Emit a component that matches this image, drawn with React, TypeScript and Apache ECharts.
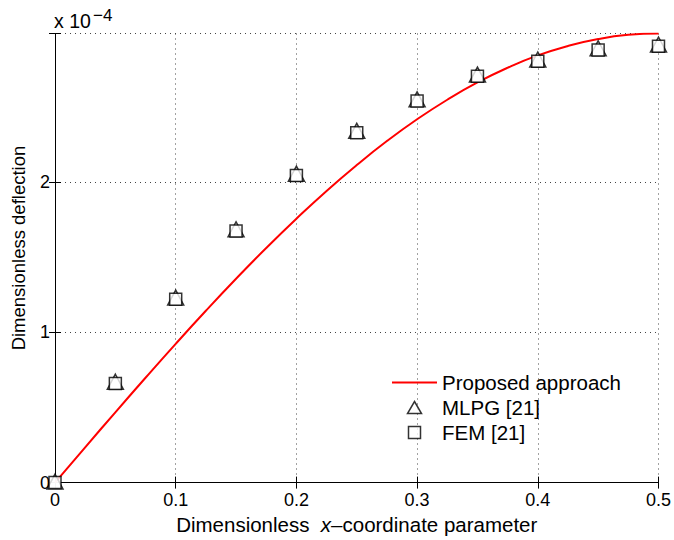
import React, { useEffect, useRef } from "react";
import * as echarts from "echarts";

// x positions (dimensionless x-coordinate)
const curveX = [0, 0.025, 0.05, 0.075, 0.1, 0.125, 0.15, 0.175, 0.2, 0.225, 0.25, 0.275, 0.3, 0.325, 0.35, 0.375, 0.4, 0.425, 0.45, 0.475, 0.5];
// Proposed approach deflection (×1e-4)
const curveY = [0, 0.235, 0.468, 0.698, 0.924, 1.144, 1.357, 1.562, 1.757, 1.942, 2.114, 2.274, 2.419, 2.549, 2.664, 2.762, 2.844, 2.907, 2.953, 2.981, 2.99];

const pointX = [0, 0.05, 0.1, 0.15, 0.2, 0.25, 0.3, 0.35, 0.4, 0.45, 0.5];
// MLPG [21] (×1e-4)
const mlpgY = [0, 0.665, 1.225, 1.68, 2.05, 2.335, 2.545, 2.71, 2.81, 2.885, 2.91];
// FEM [21] (×1e-4)
const femY = [0, 0.66, 1.22, 1.675, 2.045, 2.33, 2.54, 2.705, 2.805, 2.88, 2.905];

const yTicks = [0, 1, 2];

const FONT = "Liberation Sans, Arial, Helvetica, sans-serif";

export default function App() {
  const ref = useRef<HTMLDivElement>(null);
  useEffect(() => {
    document.body.style.margin = "0";
    if (!ref.current) return;
    const chart = echarts.init(ref.current, undefined, { renderer: "svg" });
    const line = curveX.map((x, i) => [x, curveY[i]]);
    const mlpg = pointX.map((x, i) => [x, mlpgY[i]]);
    const fem = pointX.map((x, i) => [x, femY[i]]);
    const fmtX = (v: number) => String(+v.toFixed(2));
    chart.setOption({
      animation: false,
      backgroundColor: "#ffffff",
      textStyle: { fontFamily: FONT },
      grid: { left: 55, right: 15.5, top: 33.5, bottom: 52, containLabel: false },
      legend: {
        orient: "vertical",
        left: 392,
        top: 372,
        padding: 0,
        itemWidth: 45,
        itemHeight: 12,
        itemGap: 4,
        symbolKeepAspect: true,
        textStyle: { fontFamily: FONT, fontSize: 20.5, color: "#000" },
        data: [
          { name: "Proposed approach", icon: "path://M0,0L45,0L45,2L0,2Z", itemStyle: { color: "#ff0000", borderWidth: 0 } },
          { name: "MLPG [21]", icon: "path://M7,0L14,12L0,12Z", itemStyle: { color: "#ffffff", borderColor: "#000", borderWidth: 1.5 } },
          { name: "FEM [21]", icon: "path://M1,1L11,1L11,11L1,11Z", itemStyle: { color: "#ffffff", borderColor: "#000", borderWidth: 1.5 } },
        ],
      },
      xAxis: [
        {
          type: "value",
          min: 0,
          max: 0.5,
          interval: 0.1,
          position: "bottom",
          name: "Dimensionless  {i|x}\u2013coordinate parameter",
          nameLocation: "middle",
          nameGap: 23,
          nameTextStyle: {
            fontFamily: FONT,
            fontSize: 20.5,
            color: "#000",
            rich: { i: { fontStyle: "italic", fontFamily: FONT, fontSize: 20.5, color: "#000" } },
          },
          axisLine: { show: true, lineStyle: { color: "#000", width: 1 } },
          axisTick: { show: true, inside: true, length: 6, lineStyle: { color: "#000" } },
          axisLabel: { fontFamily: FONT, fontSize: 18, color: "#000", margin: 8.5, formatter: fmtX },
          splitLine: { show: true, lineStyle: { color: "#444", type: [1, 4], width: 1 } },
        },
        {
          type: "value",
          min: 0,
          max: 0.5,
          interval: 0.1,
          position: "top",
          axisLine: { show: true, lineStyle: { color: "#000", width: 1 } },
          axisTick: { show: true, inside: true, length: 6, lineStyle: { color: "#000" } },
          axisLabel: { show: false },
          splitLine: { show: false },
        },
      ],
      yAxis: [
        {
          type: "value",
          min: 0,
          max: 2.99,
          interval: 1,
          position: "left",
          name: "Dimensionless deflection",
          nameLocation: "middle",
          nameGap: 27,
          nameTextStyle: { fontFamily: FONT, fontSize: 18.5, color: "#000", padding: [0, 0, 0, 20] },
          axisLine: { show: true, lineStyle: { color: "#000", width: 1 } },
          axisTick: { show: true, inside: true, length: 6, lineStyle: { color: "#000" } },
          axisLabel: {
            fontFamily: FONT,
            fontSize: 18,
            color: "#000",
            margin: 5,
            formatter: (v: number) => (yTicks.includes(Math.round(v * 1000) / 1000) ? String(v) : ""),
          },
          splitLine: { show: true, lineStyle: { color: "#444", type: [1, 4], width: 1 } },
        },
        {
          type: "value",
          min: 0,
          max: 2.99,
          interval: 1,
          position: "right",
          axisLine: { show: true, lineStyle: { color: "#000", width: 1 } },
          axisTick: { show: true, inside: true, length: 6, lineStyle: { color: "#000" } },
          axisLabel: { show: false },
          splitLine: { show: false },
        },
      ],
      series: [
        {
          name: "Proposed approach",
          type: "line",
          data: line,
          smooth: true,
          symbol: "none",
          lineStyle: { color: "#ff0000", width: 2 },
          itemStyle: { color: "#ff0000" },
          z: 3,
        },
        {
          name: "MLPG [21]",
          type: "scatter",
          data: mlpg,
          symbol: "triangle",
          symbolSize: [16, 15],
          symbolOffset: [0, -1],
          itemStyle: { color: "#ffffff", borderColor: "#000", borderWidth: 1.5 },
          z: 4,
        },
        {
          name: "FEM [21]",
          type: "scatter",
          data: fem,
          symbol: "rect",
          symbolSize: 12,
          itemStyle: { color: "#ffffff", borderColor: "#000", borderWidth: 1.5 },
          z: 5,
        },
      ],
      graphic: [
        {
          type: "text",
          left: 54,
          top: 11,
          style: { text: "x 10", fontFamily: FONT, fontSize: 19.5, fill: "#000" },
        },
        {
          type: "text",
          left: 93,
          top: 7,
          style: { text: "\u22124", fontFamily: FONT, fontSize: 17, fill: "#000" },
        },
      ],
    });
    return () => chart.dispose();
  }, []);
  return <div ref={ref} style={{ width: 674, height: 540 }} />;
}
